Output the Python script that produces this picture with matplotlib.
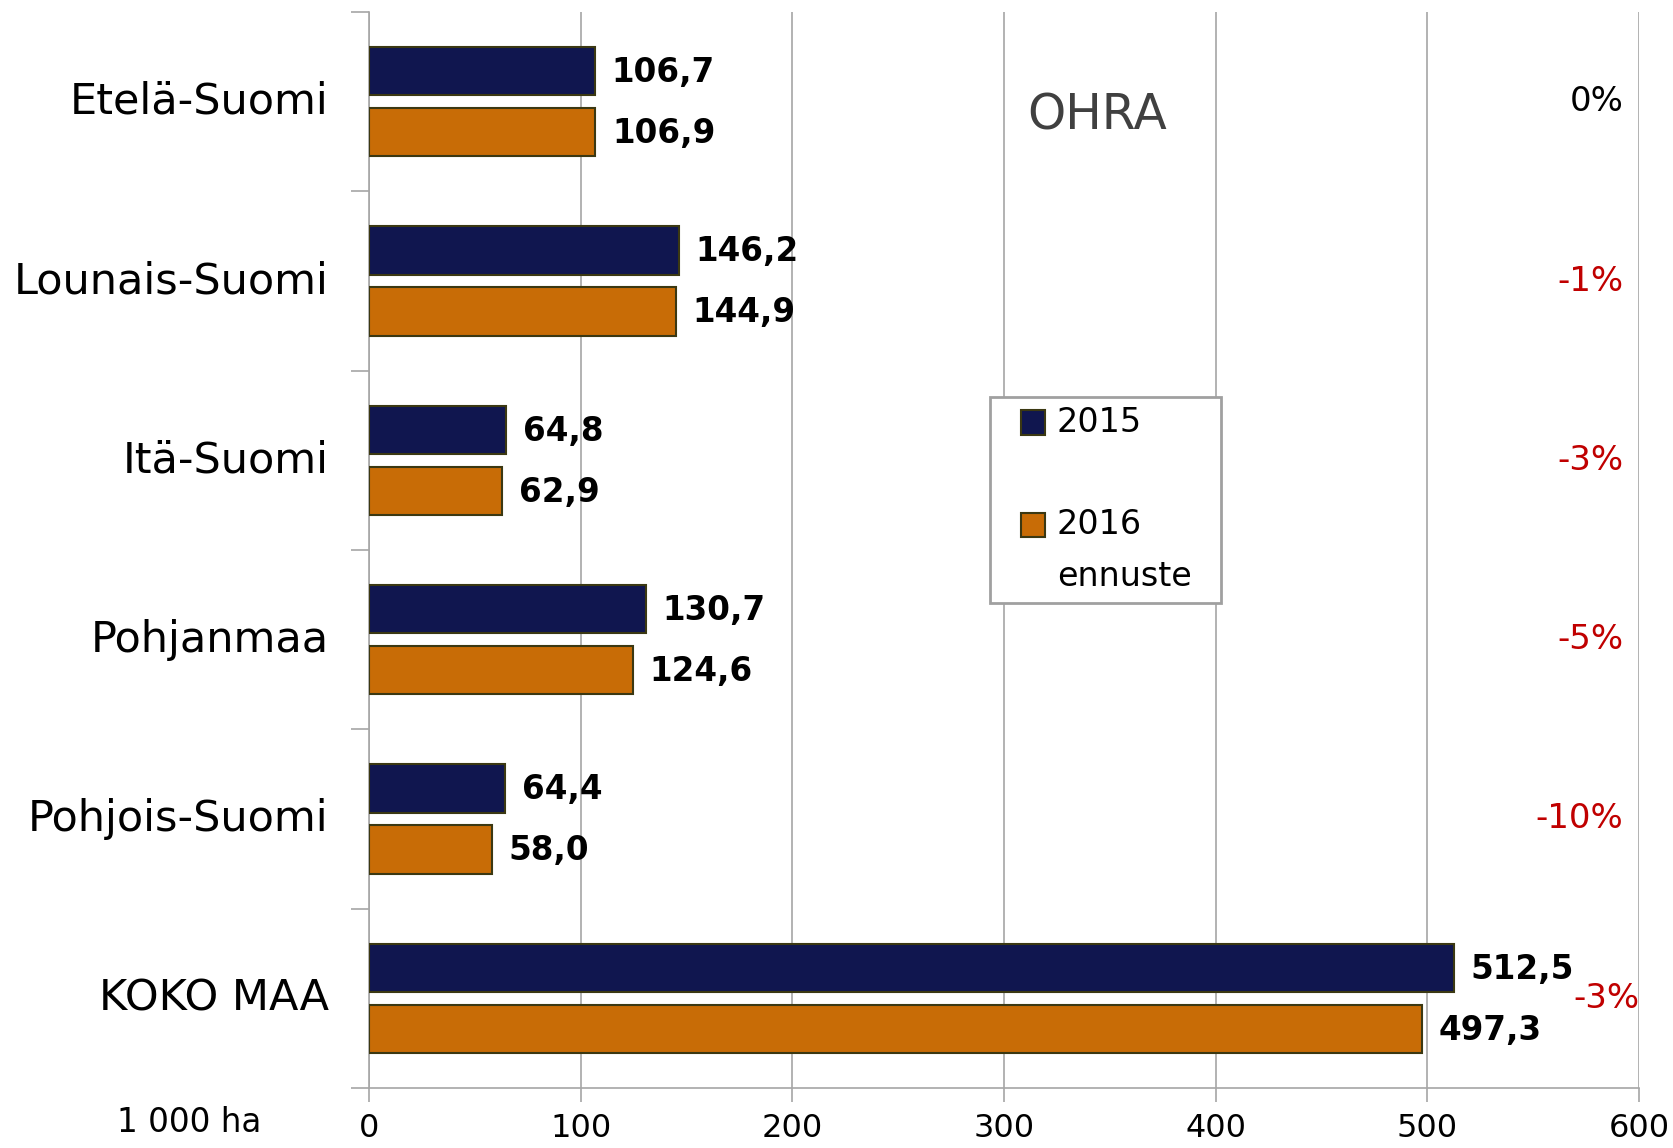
import numpy as np
import matplotlib.pyplot as plt
from matplotlib.patches import Rectangle
from matplotlib.ticker import MultipleLocator, FixedLocator

# Data
regions = ['Etelä-Suomi', 'Lounais-Suomi', 'Itä-Suomi', 'Pohjanmaa', 'Pohjois-Suomi', 'KOKO MAA']
area_2015 = [106.7, 146.2, 64.8, 130.7, 64.4, 512.5]
area_2016 = [106.9, 144.9, 62.9, 124.6, 58.0, 497.3]
change = ['0%', '-1%', '-3%', '-5%', '-10%', '-3%']

navy = '#10164f'
orange = '#c86c06'
edge = '#3b3812'
grid_col = '#a6a6a6'

fig = plt.figure(figsize=(16.73, 11.48), dpi=100)
ax = fig.add_axes([0.2206, 0.0523, 0.7591, 0.9372])

y = np.arange(len(regions))
h = 0.27
off = 0.17

b1 = ax.barh(y - off, area_2015, height=h, color=navy, edgecolor=edge, linewidth=1.5, zorder=3)
b2 = ax.barh(y + off, area_2016, height=h, color=orange, edgecolor=edge, linewidth=1.5, zorder=3)

# value labels
for bars, vals in ((b1, area_2015), (b2, area_2016)):
    for bar, v in zip(bars, vals):
        ax.annotate(f'{v:.1f}'.replace('.', ','),
                    xy=(v, bar.get_y() + bar.get_height() / 2),
                    xytext=(12, -1), textcoords='offset points',
                    ha='left', va='center', fontsize=23.5, fontweight='bold', color='black')

# change percentages on the right
for i, c in enumerate(change):
    col = 'black' if c == '0%' else '#c00000'
    xpos = 600 if i == len(regions) - 1 else 592.5
    ax.text(xpos, i, c, ha='right', va='center', fontsize=24.5, color=col)

ax.text(0.518, 0.904, 'OHRA', transform=ax.transAxes, fontsize=35, color='#404040', ha='left', va='center')

ax.set_xlim(0, 600)
ax.set_ylim(len(regions) - 0.5, -0.5)
ax.xaxis.set_major_locator(MultipleLocator(100))
ax.grid(axis='x', color=grid_col, linewidth=1.2, zorder=0)
ax.set_axisbelow(True)

ax.set_yticks(y)
ax.set_yticklabels(regions, fontsize=31, va='center')
ax.yaxis.set_minor_locator(FixedLocator(np.arange(-0.5, len(regions), 1)))
ax.tick_params(axis='y', which='major', length=0, pad=29)
ax.tick_params(axis='y', which='minor', length=13, color=grid_col, width=1.2)
ax.tick_params(axis='x', labelsize=23, length=10, color=grid_col, width=1.2, pad=8)

for s in ('top', 'right'):
    ax.spines[s].set_visible(False)
for s in ('left', 'bottom'):
    ax.spines[s].set_color(grid_col)
    ax.spines[s].set_linewidth(1.2)

# legend box
tr = ax.transAxes
ax.add_patch(Rectangle((0.4887, 0.4509), 0.1822, 0.1913, transform=tr, facecolor='white',
                       edgecolor='#a0a0a0', linewidth=2, zorder=5))
sw, sh = 0.0193, 0.0228
for yc, col in ((0.6184, navy), (0.5233, orange)):
    ax.add_patch(Rectangle((0.5130, yc - sh / 2), sw, sh, transform=tr, facecolor=col,
                           edgecolor=edge, linewidth=1.5, zorder=6))
ax.text(0.5416, 0.6184, '2015', transform=tr, fontsize=24, va='center', ha='left', zorder=7)
ax.text(0.5416, 0.5233, '2016', transform=tr, fontsize=24, va='center', ha='left', zorder=7)
ax.text(0.5416, 0.4757, 'ennuste', transform=tr, fontsize=24, va='center', ha='left', zorder=7)

fig.text(0.070, 0.0226, '1 000 ha', fontsize=23.5, ha='left', va='center')

fig.savefig('out.png', dpi=100)
